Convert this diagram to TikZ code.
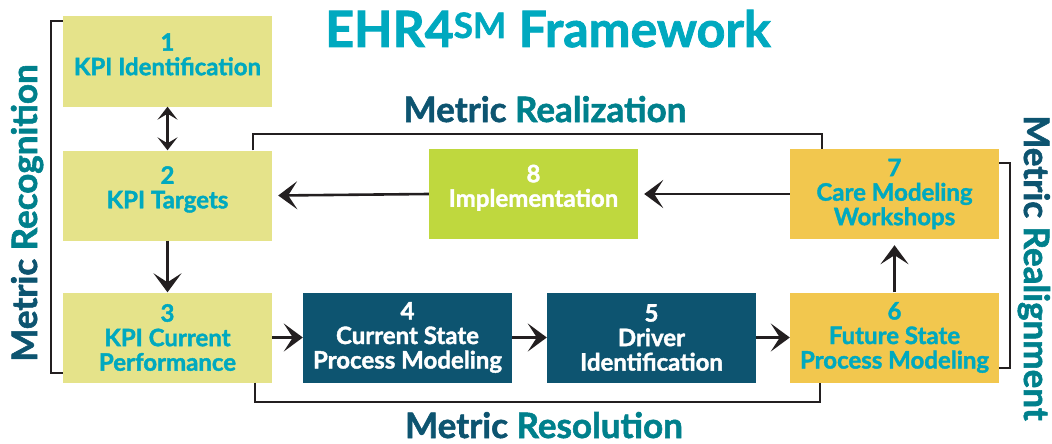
\documentclass[tikz,border=0pt]{standalone}
\usepackage{fontspec}
\setmainfont{Lato}[BoldFeatures={FakeBold=1.6}]
\usetikzlibrary{arrows.meta}
\definecolor{tealT}{RGB}{0,169,191}
\definecolor{darkB}{RGB}{13,84,112}
\definecolor{tealL}{RGB}{0,128,140}
\definecolor{kpiY}{RGB}{229,227,138}
\definecolor{implG}{RGB}{191,216,62}
\definecolor{careY}{RGB}{242,199,78}
\definecolor{lineC}{RGB}{35,31,32}
\tikzset{
  stepbox/.style={rectangle, inner sep=0pt, minimum width=209pt, minimum height=90pt,
    align=center, font=\fontsize{24}{24.5}\selectfont\bfseries},
  kpibox/.style={stepbox, fill=kpiY, text=tealT},
  darkbox/.style={stepbox, fill=darkB, text=white},
  yelbox/.style={stepbox, fill=careY, text=tealT},
  grnbox/.style={stepbox, fill=implG, text=white},
  arr/.style={draw=lineC, line width=2.6pt, -{Stealth[length=19pt,width=28pt,inset=9pt]}},
  dbl/.style={draw=lineC, line width=2.2pt, {Stealth[length=13pt,width=20pt,inset=6pt]}-{Stealth[length=13pt,width=20pt,inset=6pt]}},
  bracket/.style={draw=lineC, line width=2pt},
  phase/.style={font=\fontsize{35}{38}\selectfont\bfseries, inner sep=0pt},
}
\begin{document}
\begin{tikzpicture}[x=1pt,y=-1pt]
\useasboundingbox (0,0) rectangle (1052,444);
% title
\node[anchor=base, inner sep=0pt, text=tealT, font=\fontsize{50}{52}\selectfont\bfseries] (title) at (548,47) {EHR4\textsuperscript{SM} Framework};
% boxes
\node[kpibox] (b1) at (167.5,61.5) {1\\KPI Identification\\[-10pt]\mbox{}};
\node[kpibox] (b2) at (167.5,195.5) {2\\KPI Targets\\[-8pt]\mbox{}};
\node[kpibox] (b3) at (167.5,337.5) {3\\KPI Current\\Performance};
\node[darkbox] (b4) at (407.5,337.5) {4\\Current State\\Process Modeling};
\node[darkbox] (b5) at (651.5,337.5) {5\\Driver\\Identification};
\node[yelbox] (b6) at (894.5,337.5) {6\\Future State\\Process Modeling};
\node[yelbox] (b7) at (894.5,194) {7\\Care Modeling\\Workshops};
\node[grnbox] (b8) at (533.5,194) {8\\Implementation\\[-8pt]\mbox{}};
% arrows
\draw[dbl] (b1.south) -- (b2.north);
\draw[arr] (b2.south) -- (b3.north);
\draw[arr] (b3.east) -- (b4.west);
\draw[arr] (b4.east) -- (b5.west);
\draw[arr] (b5.east) -- (b6.west);
\draw[arr] (b6.north) -- ([yshift=-6pt]b7.south);
\draw[arr] (b7.west) -- ([xshift=6pt]b8.east);
\draw[arr] (b8.west) -- ([xshift=6pt]b2.east);
% brackets
\draw[bracket] ([yshift=-5pt]b1.north west) -- ++(-12,0) |- ([yshift=10pt]b3.south west);
\draw[bracket] ([xshift=-19pt]b2.north east) -- ++(0,-16) -| ([xshift=32pt]b7.north west);
\draw[bracket] ([xshift=-17pt]b3.south east) -- ++(0,19) -| ([xshift=30pt]b6.south west);
\draw[bracket] ([yshift=-14pt]b7.north east) -- ++(11,0) |- ([yshift=15pt]b6.south east);
% phase labels
\node[phase, anchor=base] (real) at (545,122) {\textcolor{darkB}{Metric} \textcolor{tealL}{Realization}};
\node[phase, anchor=base] (reso) at (544,438) {\textcolor{darkB}{Metric} \textcolor{tealL}{Resolution}};
\node[phase, anchor=base, rotate=90] (reco) at (37,213) {\textcolor{darkB}{Metric} \textcolor{tealL}{Recognition}};
\node[phase, anchor=base, rotate=-90] (real2) at (1024,268) {\textcolor{darkB}{Metric} \textcolor{tealL}{Realignment}};
\end{tikzpicture}
\end{document}
